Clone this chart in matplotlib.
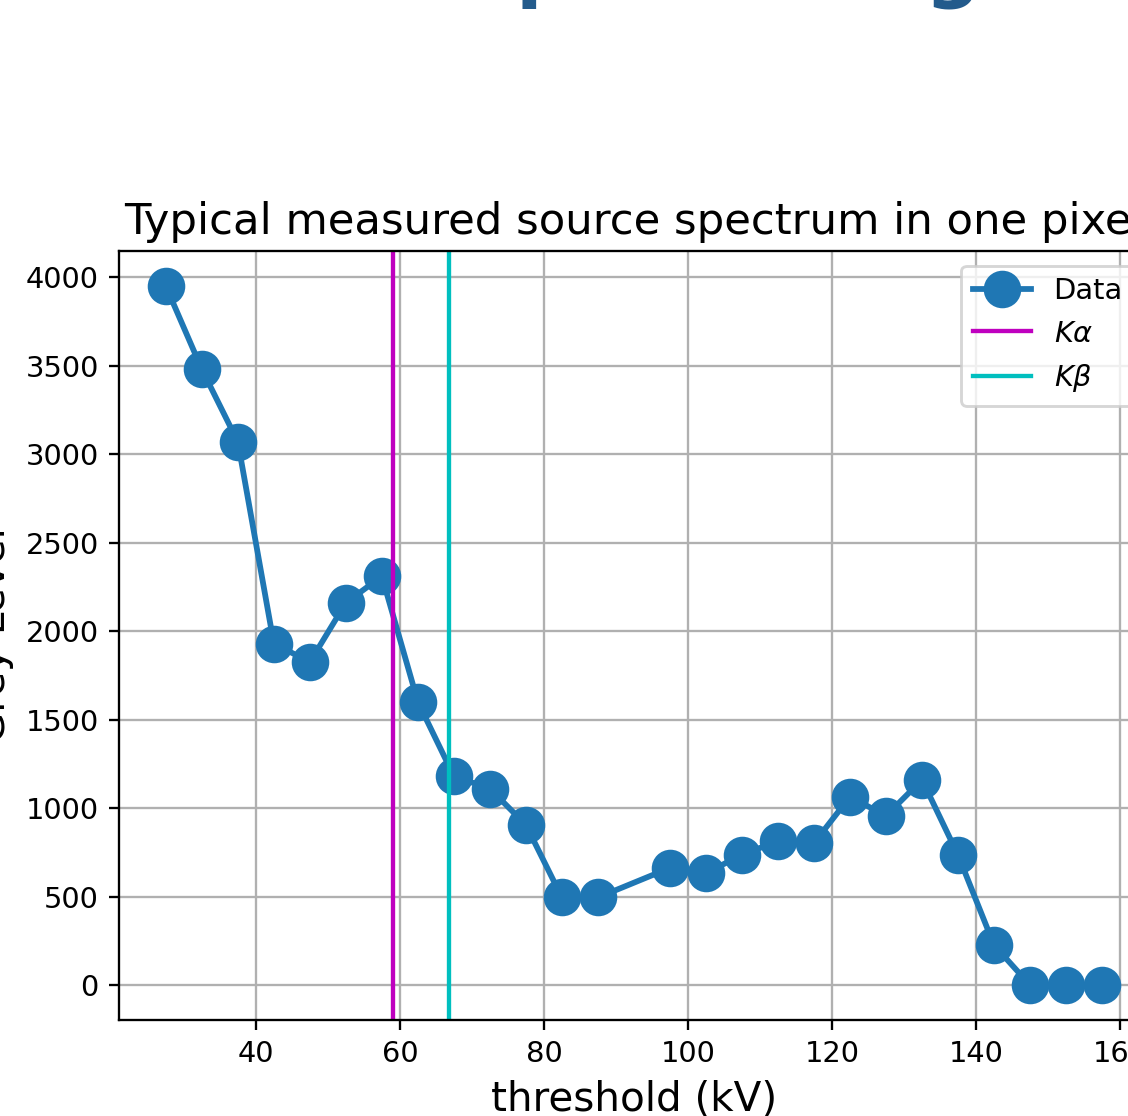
import matplotlib
matplotlib.use("Agg")
import matplotlib.pyplot as plt

# threshold steps (kV) and measured grey level in one pixel
threshold = [27.5, 32.5, 37.5, 42.5, 47.5, 52.5, 57.5, 62.5, 67.5, 72.5, 77.5,
             82.5, 87.5, 97.5, 102.5, 107.5, 112.5, 117.5, 122.5, 127.5,
             132.5, 137.5, 142.5, 147.5, 152.5, 157.5]
grey = [3950, 3480, 3070, 1930, 1825, 2160, 2310, 1600, 1180, 1110, 905,
        495, 495, 662, 634, 735, 815, 803, 1064, 956,
        1160, 735, 226, 0, 0, 0]
k_alpha = 59.0
k_beta = 66.8

dpi = 208
fig = plt.figure(figsize=(1128 / dpi, 1116 / dpi), dpi=dpi)
ax = fig.add_axes([0.1055, 0.086, 0.913, 0.689])

ax.plot(threshold, grey, 'o-', lw=2, markersize=12, label='Data')
ax.axvline(k_alpha, color='m', label=r'$K\alpha$')
ax.axvline(k_beta, color='c', label=r'$K\beta$')
ax.grid(True)
ax.legend(loc='upper right')
ax.set_title('Typical measured source spectrum in one pixel', fontsize=15)
ax.set_xlabel('threshold (kV)', fontsize=14)
ax.set_ylabel('Grey Level', fontsize=14)

# bits of the slide heading, cut by the screenshot edge
fig.text(0.4574, 1.0063, 'p', color='#235b8c', fontsize=27, fontweight='bold',
         ha='left', va='baseline')
fig.text(0.820, 1.0063, 'g', color='#235b8c', fontsize=27, fontweight='bold',
         ha='left', va='baseline')

fig.savefig('out.png', dpi=dpi)
